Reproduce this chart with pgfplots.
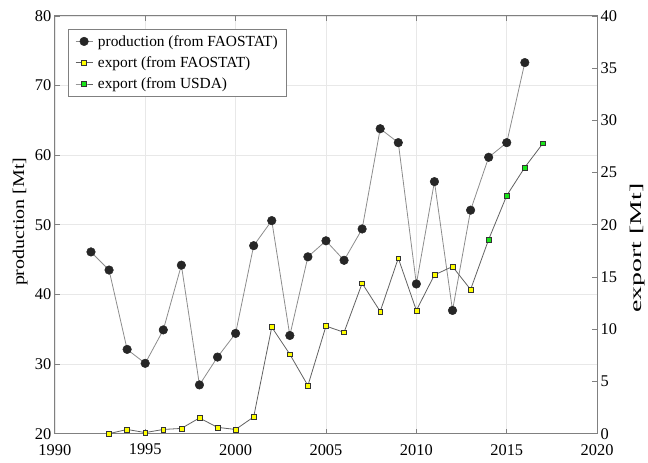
\documentclass[border=0pt]{standalone}
\usepackage{fontspec}
\setmainfont{Liberation Serif}
\usepackage{graphicx}
\usepackage{pgfplots}
\pgfplotsset{compat=1.18}
\definecolor{axgray}{rgb}{0.5,0.5,0.5}
\definecolor{gridgray}{rgb}{0.91,0.91,0.91}
\definecolor{prodline}{rgb}{0.55,0.55,0.55}
\definecolor{expline}{rgb}{0.38,0.38,0.38}
\definecolor{myyellow}{rgb}{1,1,0}
\definecolor{mygreen}{rgb}{0.1,0.9,0.1}
\pgfplotsset{
  common/.style={
    scale only axis, width=544bp, height=419bp,
    xmin=1990, xmax=2020,
    /pgf/number format/assume math mode=true,
    /pgf/number format/1000 sep={},
    tick style={draw=axgray, line width=0.8bp},
    major tick length=5bp,
    axis line style={draw=axgray, line width=1bp},
    tick label style={font=\fontsize{16.5}{19}\selectfont, black},
    x tick label style={yshift=-7bp},
    label style={font=\fontsize{16.5}{19}\selectfont},
  },
  prodstyle/.style={draw=prodline, line width=0.8bp, mark=*, mark size=4.3bp,
    mark options={draw=black!85, fill=black!85, line width=0.5bp}},
  expstyle/.style={draw=expline, line width=0.8bp, mark=square*, mark size=2.4bp,
    mark options={draw=black!80, fill=myyellow, line width=0.5bp}},
  usdastyle/.style={draw=expline, line width=0.8bp, mark=square*, mark size=2.4bp,
    mark options={draw=black!80, fill=mygreen, line width=0.5bp}},
}
\begin{document}
\begin{tikzpicture}
\begin{axis}[common,
  ymin=20, ymax=80,
  xtick={1990,1995,...,2020}, ytick={20,30,...,80},
  ytick pos=left,
  grid=major, major grid style={draw=gridgray, line width=0.6bp},
  ylabel={\scalebox{1.22}[1]{production [Mt]}},
  ylabel style={at={(axis description cs:-0.064,0.507)}, anchor=center},
  clip=false,
]
\path (axis description cs:-0.1011,-0.0692) rectangle (axis description cs:1.0901,1.0382);
\addplot[prodstyle] coordinates {
(1992,46.1) (1993,43.5) (1994,32.1) (1995,30.1) (1996,34.9) (1997,44.2)
(1998,27.0) (1999,31.0) (2000,34.4) (2001,47.0) (2002,50.6) (2003,34.1)
(2004,45.4) (2005,47.7) (2006,44.9) (2007,49.4) (2008,63.8) (2009,61.8)
(2010,41.5) (2011,56.2) (2012,37.7) (2013,52.1) (2014,59.7) (2015,61.8)
(2016,73.3)};
\end{axis}
\begin{axis}[common,
  ymin=0, ymax=40, ytick={0,5,...,40},
  axis x line=none, axis y line*=right,
  ylabel={\scalebox{1.7}[1]{export [Mt]}},
  ylabel style={at={(axis description cs:1.074,0.444)}, anchor=center, rotate=0},
  legend style={at={(0.024,0.969)}, anchor=north west, draw=axgray,
    fill=white, font=\fontsize{15.5}{19}\selectfont, inner xsep=7bp, inner ysep=4bp,
    row sep=5bp, line width=0.8bp,
    /tikz/every odd column/.style={column sep=3bp}},
  legend cell align=left,
  legend image code/.code={\draw[mark repeat=2,mark phase=2]
    plot coordinates {(0cm,0cm)(0.3cm,0cm)(0.6cm,0cm)};},
]
\addlegendimage{prodstyle}
\addlegendentry{production (from FAOSTAT)}
\addplot[expstyle] coordinates {
(1993,0.0) (1994,0.4) (1995,0.1) (1996,0.4) (1997,0.5) (1998,1.5)
(1999,0.6) (2000,0.4) (2001,1.6) (2002,10.2) (2003,7.6) (2004,4.6)
(2005,10.3) (2006,9.7) (2007,14.4) (2008,11.7) (2009,16.8) (2010,11.8)
(2011,15.2) (2012,16.0) (2013,13.8) (2014,18.6)};
\addlegendentry{export (from FAOSTAT)}
\addplot[usdastyle] coordinates {
(2014,18.6) (2015,22.8) (2016,25.5) (2017,27.8)};
\addlegendentry{export (from USDA)}
\end{axis}
\end{tikzpicture}
\end{document}
